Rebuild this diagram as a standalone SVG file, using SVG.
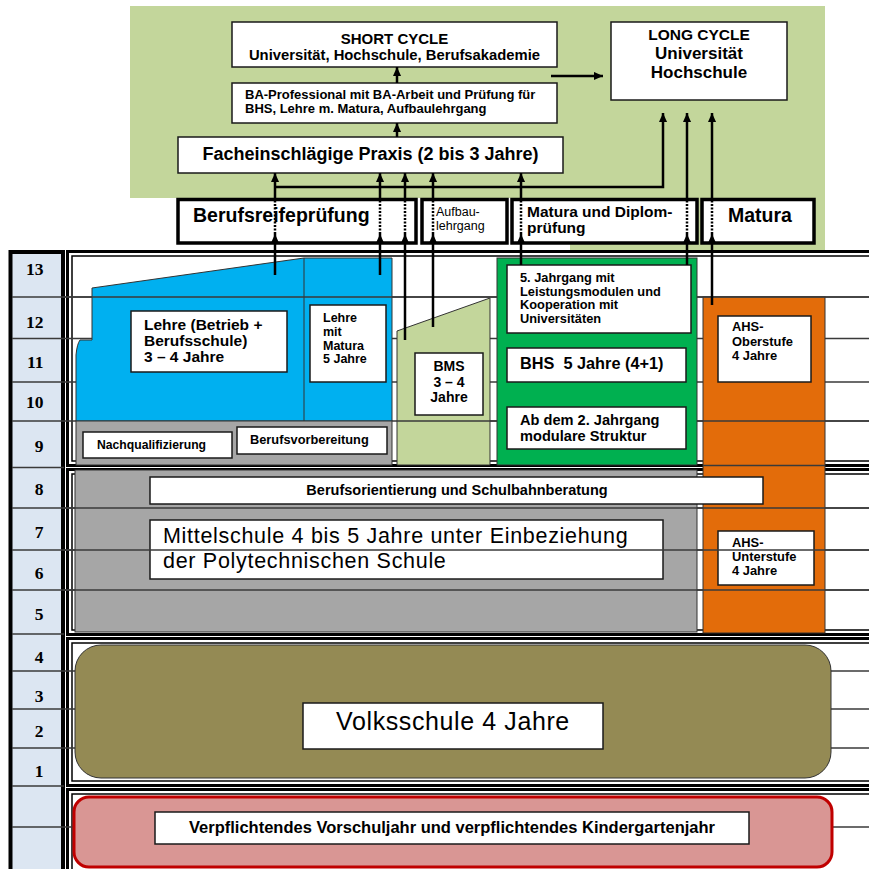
<svg xmlns="http://www.w3.org/2000/svg" width="869" height="869" viewBox="0 0 869 869">
<style>
.t{font-family:"Liberation Sans",Arial,sans-serif;font-weight:bold;fill:#000}
.nw{font-weight:normal}
.box{fill:#fff;stroke:#1a1a1a;stroke-width:1.5}
.tbox{fill:#fff;stroke:#000;stroke-width:3.5}
.row{stroke:#3a3a3a;stroke-width:1.3}
.fo{fill:#fff;stroke:#000;stroke-width:3}
.fi{fill:none;stroke:#000;stroke-width:1.5}
.shp{stroke:#333;stroke-width:1}
.ar{stroke:#000;stroke-width:2.5;fill:none}
.dot{stroke:#000;stroke-width:2.5;stroke-dasharray:2 1.5;fill:none}
.num{font-family:"Liberation Serif","Times New Roman",serif;font-weight:bold;font-size:17.5px;text-anchor:end;fill:#000}
.mid{text-anchor:middle}
</style>
<defs>
<marker id="ah" viewBox="0 0 10 10" markerWidth="9" markerHeight="9" refX="10" refY="5" orient="auto" markerUnits="userSpaceOnUse">
<path d="M0,0.5 L10,5 L0,9.5 Z" fill="#000"/>
</marker>
</defs>

<!-- top green background -->
<g id="top-bg">
<path d="M130 6 H825 V250 H570 V198 H130 Z" fill="#c3d69b"/>
</g>

<!-- frame sections -->
<g id="frame">
<rect class="fo" x="67.5" y="251.5" width="820" height="214"/>
<rect class="fi" x="72" y="256" width="820" height="205"/>
<rect class="fo" x="67.5" y="469.5" width="820" height="165"/>
<rect class="fi" x="72" y="474" width="820" height="156"/>
<rect class="fo" x="67.5" y="638.5" width="820" height="147"/>
<rect class="fi" x="72" y="643" width="820" height="138"/>
<rect class="fo" x="67.5" y="789.5" width="820" height="100"/>
<rect class="fi" x="72" y="794" width="820" height="100"/>
</g>

<!-- year column -->
<g id="year-column">
<rect x="10.5" y="252" width="52.5" height="640" fill="#dce6f2" stroke="#000" stroke-width="4"/>
<text class="num" x="43.5" y="275">13</text>
<text class="num" x="43.5" y="328">12</text>
<text class="num" x="43.5" y="368">11</text>
<text class="num" x="43.5" y="408">10</text>
<text class="num" x="43.5" y="452">9</text>
<text class="num" x="43.5" y="495">8</text>
<text class="num" x="43.5" y="538">7</text>
<text class="num" x="43.5" y="579">6</text>
<text class="num" x="43.5" y="620">5</text>
<text class="num" x="43.5" y="663">4</text>
<text class="num" x="43.5" y="702">3</text>
<text class="num" x="43.5" y="737">2</text>
<text class="num" x="43.5" y="777">1</text>
</g>

<!-- row lines (behind) -->
<g id="rows">
<line class="row" x1="12" y1="297" x2="869" y2="297"/>
<line class="row" x1="12" y1="338.5" x2="869" y2="338.5"/>
<line class="row" x1="12" y1="382" x2="869" y2="382"/>
<line class="row" x1="12" y1="421" x2="869" y2="421"/>
<line class="row" x1="12" y1="467.5" x2="64" y2="467.5"/>
<line class="row" x1="12" y1="508" x2="869" y2="508"/>
<line class="row" x1="12" y1="550" x2="869" y2="550"/>
<line class="row" x1="12" y1="590" x2="869" y2="590"/>
<line class="row" x1="12" y1="634" x2="64" y2="634"/>
<line class="row" x1="12" y1="671" x2="869" y2="671"/>
<line class="row" x1="12" y1="709" x2="869" y2="709"/>
<line class="row" x1="12" y1="748" x2="869" y2="748"/>
<line class="row" x1="12" y1="786" x2="64" y2="786"/>
<line class="row" x1="12" y1="827" x2="869" y2="827"/>
</g>

<!-- coloured areas -->
<g id="areas">
<path class="shp" d="M76 421 V355 Q77 344 80 340 H92 V288 L304 258 H392 V421 Z" fill="#00b0f0"/>
<line x1="304" y1="258" x2="304" y2="421" stroke="#333" stroke-width="1"/>
<rect class="shp" x="76" y="421" width="316" height="44" fill="#a6a6a6"/>
<path class="shp" d="M397 465 V331 L490 298 V465 Z" fill="#c3d69b"/>
<rect class="shp" x="497" y="258" width="200" height="207" fill="#00b050"/>
<rect class="shp" x="75" y="470" width="622" height="162" fill="#a6a6a6"/>
<rect class="shp" x="703" y="297" width="122" height="336" fill="#e36c0a"/>
<rect x="75" y="645" width="756" height="133" rx="26" fill="#948a54" stroke="#333" stroke-width="1"/>
<rect x="74" y="797" width="758" height="70" rx="15" fill="#d99694" stroke="#c00000" stroke-width="3"/>
</g>

<!-- row lines on top -->
<g id="rows-top">
<line class="row" x1="63" y1="297" x2="497" y2="297"/>
<line class="row" x1="697" y1="297" x2="869" y2="297"/>
<line class="row" x1="397" y1="421" x2="497" y2="421"/>
<line class="row" x1="697" y1="421" x2="869" y2="421"/>
<line class="row" x1="703" y1="465.5" x2="825" y2="465.5"/>
<line class="row" x1="63" y1="508" x2="869" y2="508"/>
<line class="row" x1="63" y1="590" x2="869" y2="590"/>
</g>

<!-- top boxes -->
<g id="short-cycle">
<rect class="box" x="232" y="22" width="325" height="45"/>
<text class="t mid" x="394.5" y="43.5" font-size="15">SHORT CYCLE</text>
<text class="t mid" x="394.5" y="60" font-size="14.8">Universität, Hochschule, Berufsakademie</text>
</g>
<g id="ba-professional">
<rect class="box" x="232" y="83" width="325" height="40"/>
<text class="t" x="245" y="99" font-size="13">BA-Professional mit BA-Arbeit und Prüfung für</text>
<text class="t" x="245" y="113" font-size="13">BHS, Lehre m. Matura, Aufbaulehrgang</text>
</g>
<g id="praxis">
<rect class="box" x="178" y="137" width="385" height="36"/>
<text class="t mid" x="370.5" y="159.5" font-size="18">Facheinschlägige Praxis (2 bis 3 Jahre)</text>
</g>
<g id="long-cycle">
<rect class="box" x="611" y="22" width="176" height="78"/>
<text class="t mid" x="699" y="40" font-size="15.5">LONG CYCLE</text>
<text class="t mid" x="699" y="59" font-size="17">Universität</text>
<text class="t mid" x="699" y="78" font-size="17">Hochschule</text>
</g>
<g id="berufsreife">
<rect class="tbox" x="178" y="199.5" width="238" height="43.5"/>
<text class="t" x="193" y="222" font-size="19.5">Berufsreifeprüfung</text>
</g>
<g id="aufbaulehrgang">
<rect class="tbox" x="422" y="199.5" width="85" height="43.5"/>
<text class="t nw" x="436" y="216" font-size="12.5">Aufbau-</text>
<text class="t nw" x="436" y="230" font-size="12.5">lehrgang</text>
</g>
<g id="matura-diplom">
<rect class="tbox" x="512" y="199.5" width="185" height="43.5"/>
<text class="t" x="527" y="217" font-size="15.5">Matura und Diplom-</text>
<text class="t" x="527" y="233" font-size="15.5">prüfung</text>
</g>
<g id="matura">
<rect class="tbox" x="702" y="199.5" width="112" height="43.5"/>
<text class="t mid" x="760" y="222" font-size="19.5">Matura</text>
</g>

<!-- upper section boxes -->
<g id="lehre">
<rect class="box" x="131" y="311" width="156" height="61"/>
<text class="t" x="144" y="330" font-size="15.5">Lehre (Betrieb +</text>
<text class="t" x="144" y="346" font-size="15.5">Berufsschule)</text>
<text class="t" x="144" y="362" font-size="15.5">3 – 4 Jahre</text>
</g>
<g id="lehre-matura">
<rect class="box" x="310" y="305" width="76" height="77"/>
<text class="t" x="323" y="322" font-size="12.5">Lehre</text>
<text class="t" x="323" y="336" font-size="12.5">mit</text>
<text class="t" x="323" y="349.5" font-size="12.5">Matura</text>
<text class="t" x="323" y="363" font-size="12.5">5 Jahre</text>
</g>
<g id="nachqualifizierung">
<rect class="box" x="83" y="432" width="149" height="26"/>
<text class="t" x="97" y="449" font-size="12.2">Nachqualifizierung</text>
</g>
<g id="berufsvorbereitung">
<rect class="box" x="237" y="427" width="150" height="27"/>
<text class="t" x="250" y="444" font-size="12.8">Berufsvorbereitung</text>
</g>
<g id="bms">
<rect class="box" x="415" y="353" width="68" height="62"/>
<text class="t mid" x="449" y="371" font-size="14">BMS</text>
<text class="t mid" x="449" y="386.5" font-size="14">3 – 4</text>
<text class="t mid" x="449" y="402" font-size="14">Jahre</text>
</g>
<g id="bhs">
<rect class="box" x="507" y="265" width="184" height="68"/>
<text class="t" x="520" y="282" font-size="12.8">5. Jahrgang mit</text>
<text class="t" x="520" y="295.7" font-size="12.8">Leistungsmodulen und</text>
<text class="t" x="520" y="309.4" font-size="12.8">Kooperation mit</text>
<text class="t" x="520" y="323" font-size="12.8">Universitäten</text>
<rect class="box" x="507" y="348" width="179" height="34"/>
<text class="t" x="520" y="369" font-size="16.3">BHS&#160; 5 Jahre (4+1)</text>
<rect class="box" x="507" y="407" width="179" height="42"/>
<text class="t" x="520" y="425" font-size="14.6">Ab dem 2. Jahrgang</text>
<text class="t" x="520" y="440.5" font-size="14.6">modulare Struktur</text>
</g>
<g id="ahs-oberstufe">
<rect class="box" x="718" y="316" width="93" height="66"/>
<text class="t" x="732" y="331" font-size="12.9">AHS-</text>
<text class="t" x="732" y="345.5" font-size="12.9">Oberstufe</text>
<text class="t" x="732" y="360" font-size="12.9">4 Jahre</text>
</g>

<!-- middle section boxes -->
<g id="berufsorientierung">
<rect class="box" x="150" y="477" width="613" height="27"/>
<text class="t mid" x="457" y="495" font-size="14.5">Berufsorientierung und Schulbahnberatung</text>
</g>
<g id="mittelschule">
<rect class="box" x="150" y="520" width="513" height="59"/>
<text class="t nw" x="163" y="543" font-size="21.5" letter-spacing="0.7">Mittelschule 4 bis 5 Jahre unter Einbeziehung</text>
<text class="t nw" x="163" y="568" font-size="21.5" letter-spacing="0.7">der Polytechnischen Schule</text>
</g>
<g id="ahs-unterstufe">
<rect class="box" x="718" y="531" width="96" height="54"/>
<text class="t" x="732" y="547" font-size="12.9">AHS-</text>
<text class="t" x="732" y="561" font-size="12.9">Unterstufe</text>
<text class="t" x="732" y="575" font-size="12.9">4 Jahre</text>
</g>
<!-- line 7/6 over boxes -->
<line class="row" x1="63" y1="550" x2="869" y2="550"/>

<g id="volksschule">
<rect class="box" x="303" y="703" width="300" height="46"/>
<text class="t nw mid" x="453" y="730" font-size="25" letter-spacing="0.6">Volksschule 4 Jahre</text>
</g>
<g id="vorschule">
<rect class="box" x="155" y="812" width="594" height="32"/>
<text class="t mid" x="452" y="833" font-size="16.5">Verpflichtendes Vorschuljahr und verpflichtendes Kindergartenjahr</text>
</g>

<!-- connectors -->
<g id="connectors">
<path class="ar" d="M397 137 V123" marker-end="url(#ah)"/>
<path class="ar" d="M397 83 V67" marker-end="url(#ah)"/>
<path class="ar" d="M551 76 H603" marker-end="url(#ah)"/>
<path class="ar" d="M275 275 V234" marker-end="url(#ah)"/>
<path class="ar" d="M380 275 V234" marker-end="url(#ah)"/>
<path class="ar" d="M405 340 V234" marker-end="url(#ah)"/>
<path class="ar" d="M433 327 V234" marker-end="url(#ah)"/>
<path class="ar" d="M521 265 V234" marker-end="url(#ah)"/>
<path class="ar" d="M687 265 V234" marker-end="url(#ah)"/>
<path class="ar" d="M712 305 V234" marker-end="url(#ah)"/>
<path class="dot" d="M275 234 V201 M380 234 V201 M405 234 V201 M433 234 V201 M521 234 V201 M687 234 V201 M712 234 V201"/>
<path class="ar" d="M275 200 V173" marker-end="url(#ah)"/>
<path class="ar" d="M380 200 V173" marker-end="url(#ah)"/>
<path class="ar" d="M405 200 V173" marker-end="url(#ah)"/>
<path class="ar" d="M433 200 V173" marker-end="url(#ah)"/>
<path class="ar" d="M521 200 V173" marker-end="url(#ah)"/>
<path class="ar" d="M687 200 V113" marker-end="url(#ah)"/>
<path class="ar" d="M712 200 V113" marker-end="url(#ah)"/>
<path class="ar" d="M275 187 H663 V113" marker-end="url(#ah)"/>
</g>
</svg>
